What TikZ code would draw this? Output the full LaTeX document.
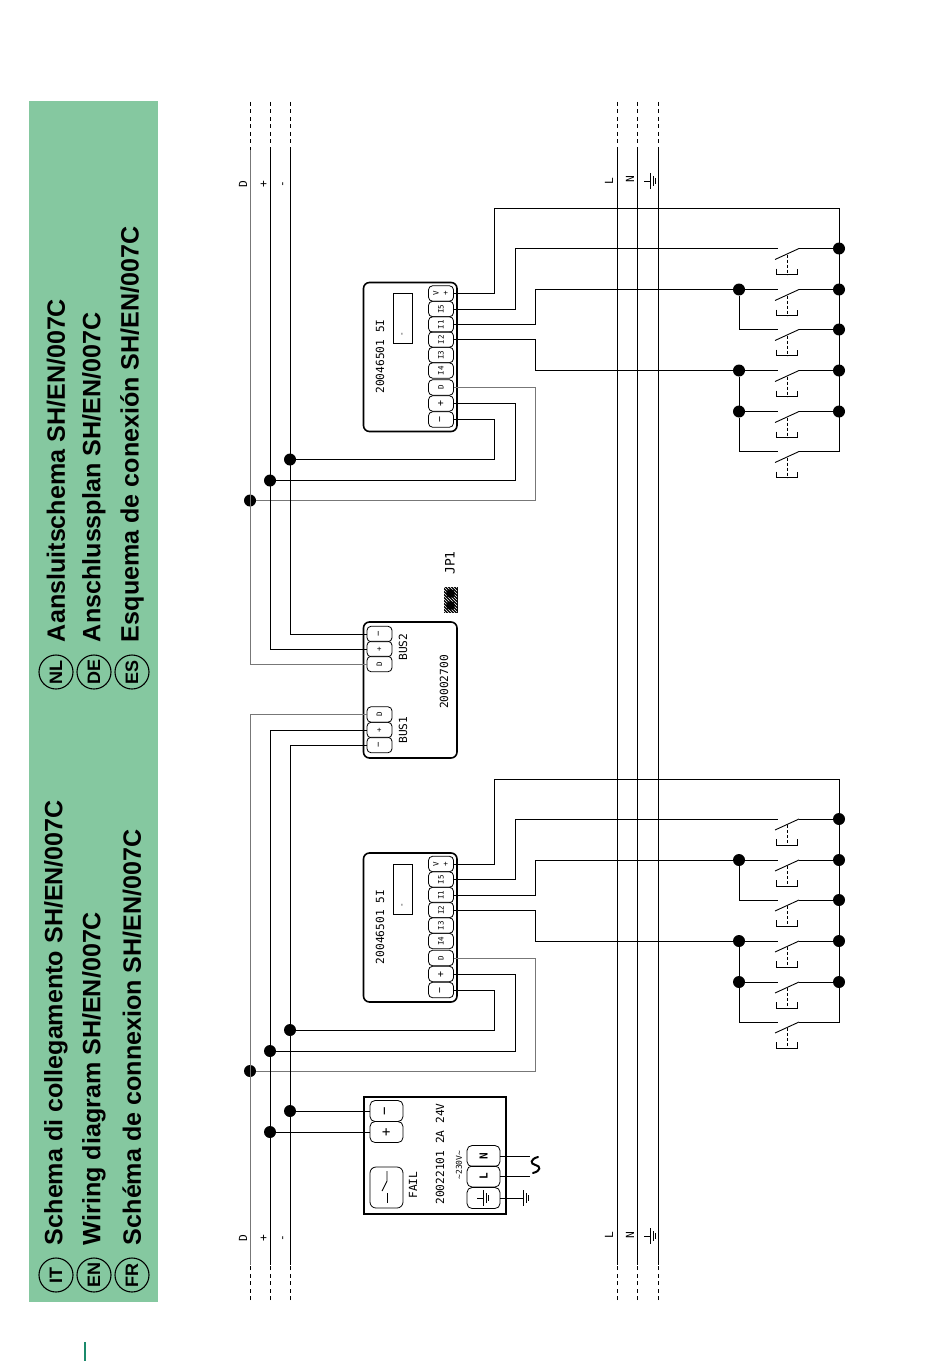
\documentclass[tikz,border=0pt]{standalone}
\usepackage{fontspec}
\setmainfont{Liberation Sans}
\newfontfamily\labelfont{DejaVu Sans Mono}
\usetikzlibrary{calc,patterns}

\definecolor{bandgreen}{HTML}{85C8A0}
\definecolor{tickgreen}{HTML}{1B8A6B}
\definecolor{dbus}{HTML}{777777}

\tikzset{
  every node/.style={outer sep=0pt},
  wire/.style={line width=0.9pt},
  dwire/.style={line width=0.9pt,draw=dbus},
  busdash/.style={line width=0.9pt,dash pattern=on 4pt off 3.5pt},
  module/.style={draw,line width=1.6pt,rounded corners=6pt,minimum width=93.5pt,anchor=north west,inner sep=0pt},
  term/.style={draw,line width=0.8pt,rounded corners=4pt,minimum width=25pt,minimum height=15.4pt,inner sep=0pt},
  bigterm/.style={draw,line width=0.8pt,rounded corners=5pt,minimum width=33pt,minimum height=21pt,inner sep=0pt},
  jn/.style={circle,fill=black,minimum size=12pt,inner sep=0pt},
  lbl/.style={rotate=90,inner sep=0pt,font=\labelfont\fontsize{11.2}{12}\selectfont},
  tinylbl/.style={rotate=90,inner sep=0pt,font=\labelfont\fontsize{7.5}{8}\selectfont},
  title/.style={rotate=90,inner sep=0pt,font=\bfseries\fontsize{25.1}{28}\selectfont,anchor=west},
  flag/.style={circle,draw,line width=1.1pt,minimum size=34pt,inner sep=0pt,rotate=90,font=\bfseries\fontsize{18}{20}\selectfont},
  pushbtn/.pic={
    \coordinate (-in) at (0,0);
    \coordinate (-out) at (21,0);
    \draw[wire] (21,0) -- (-3,11);
    \draw[wire,dash pattern=on 3pt off 2pt] (9,6) -- (9,26);
    \draw[wire] (-2,20) -- (-2,26) -- (19,26) -- (19,20);
  },
  earth/.pic={
    \coordinate (-in) at (0,0);
    \draw[wire] (0,0) -- (6,0) (6,-8) -- (6,8);
    \draw[wire] (9,-5) -- (9,5) (11.5,-3) -- (11.5,3);
  }
}

\begin{document}
\begin{tikzpicture}[x=1pt,y=-1pt]
\useasboundingbox (0,0) rectangle (950,1367);

% band with the titles
\fill[bandgreen] (29,101) rectangle (158,1302);
\draw[tickgreen,line width=1.6pt] (85,1342) -- (85,1361);

\node[flag] (it) at (56,1275) {IT};
\node[flag] (en) at (94,1275) {EN};
\node[flag] (fr) at (132,1275) {FR};
\node[flag] (nl) at (56,672) {NL};
\node[flag] (de) at (94,672) {DE};
\node[flag] (es) at (132,672) {ES};

\node[title] (tit) at (56,1245) {Schema di collegamento SH/EN/007C};
\node[title] (ten) at (94,1245) {Wiring diagram SH/EN/007C};
\node[title] (tfr) at (132,1245) {Schéma de connexion SH/EN/007C};
\node[title] (tnl) at (56,642) {Aansluitschema SH/EN/007C};
\node[title] (tde) at (94,642) {Anschlussplan SH/EN/007C};
\node[title] (tes) at (132,642) {Esquema de conexión SH/EN/007C};

% buses
\coordinate (dtop) at (250,102);
\coordinate (ptop) at (270,102);
\coordinate (mtop) at (290,102);
\coordinate (ltop) at (617,102);
\coordinate (ntop) at (637,102);
\coordinate (etop) at (658,102);
\coordinate (dend) at (250,1300);
\coordinate (pend) at (270,1300);
\coordinate (mend) at (290,1300);
\coordinate (lend) at (617,1300);
\coordinate (nend) at (637,1300);
\coordinate (eend) at (658,1300);

\foreach \b in {d,p,m,l,n,e}{
  \draw[busdash] (\b top) -- ($(\b top)+(0,48)$);
  \draw[busdash] (\b end) -- ($(\b end)+(0,-35)$);
}
\draw[wire] (ltop |- 0,150) -- (lend |- 0,1265);
\draw[wire] (ntop |- 0,150) -- (nend |- 0,1265);
\draw[wire] (etop |- 0,150) -- (eend |- 0,1265);

\node[lbl] (dlabt) at (243,184) {D};
\node[lbl] (plabt) at (264,184) {+};
\node[lbl] (mlabt) at (284,184) {-};
\node[lbl] (llabt) at (609,181) {L};
\node[lbl] (nlabt) at (630,179) {N};
\pic (eabt) at (644,181) {earth};
\node[lbl] (dlabb) at (243,1238) {D};
\node[lbl] (plabb) at (264,1238) {+};
\node[lbl] (mlabb) at (284,1238) {-};
\node[lbl] (llabb) at (609,1235) {L};
\node[lbl] (nlabb) at (630,1235) {N};
\pic (eabb) at (644,1236) {earth};

% the two input modules
\foreach \m/\dy in {a/0,b/-570.5}{
\begin{scope}[shift={(0,\dy)}]
  \node[module,minimum height=149pt] (\m box) at (363.5,853) {};
  \draw[line width=0.8pt] (393,864) rectangle (412,914);
  \node[tinylbl] (\m dash) at (403,905) {-};
  \node[lbl] (\m code) at (380,927) {20046501 5I};

  \node[term] (\m V) at (441,864) {};
  \node[term] (\m S) at (441,879.5) {};
  \node[term] (\m A) at (441,895) {};
  \node[term] (\m B) at (441,910) {};
  \node[term] (\m C) at (441,925.5) {};
  \node[term] (\m E) at (441,941) {};
  \node[term] (\m D) at (441,958) {};
  \node[term] (\m P) at (441,974) {};
  \node[term] (\m M) at (441,990) {};
  \node[tinylbl] at (436,864) {V};
  \node[tinylbl] at (446,864) {+};
  \node[tinylbl] at (441,879.5) {I5};
  \node[tinylbl] at (441,895) {I1};
  \node[tinylbl] at (441,910) {I2};
  \node[tinylbl] at (441,925.5) {I3};
  \node[tinylbl] at (441,941) {I4};
  \node[tinylbl] at (441,958) {D};
  \node[tinylbl] at (441,974) {\fontsize{10}{10}\selectfont +};
  \node[tinylbl] at (441,990) {\fontsize{10}{10}\selectfont −};

  \pic (\m s1) at (778,819) {pushbtn};
  \pic (\m s2) at (778,860) {pushbtn};
  \pic (\m s3) at (778,900) {pushbtn};
  \pic (\m s4) at (778,941) {pushbtn};
  \pic (\m s5) at (778,982) {pushbtn};
  \pic (\m s6) at (778,1022) {pushbtn};

  \node[jn] (\m r1) at (839,819) {};
  \node[jn] (\m r2) at (839,860) {};
  \node[jn] (\m r3) at (839,900) {};
  \node[jn] (\m r4) at (839,941) {};
  \node[jn] (\m r5) at (839,982) {};
  \coordinate (\m r6) at (839,1022);
  \coordinate (\m rtop) at (839,779);
  \node[jn] (\m l2) at (739,860) {};
  \node[jn] (\m l4) at (739,941) {};
  \node[jn] (\m l5) at (739,982) {};

  \node[jn] (\m bd) at (250,1071) {};
  \node[jn] (\m bp) at (270,1051) {};
  \node[jn] (\m bm) at (290,1030) {};
  \coordinate (\m vx) at (494,779);
  \coordinate (\m sx) at (515,819);
  \coordinate (\m ax) at (535,860);
  \coordinate (\m bx) at (535,941);
  \coordinate (\m dx) at (535,1071);
  \coordinate (\m px) at (515,1051);
  \coordinate (\m mx) at (494,1030);

  \draw[wire] (\m V.east) -| (\m vx) -- (\m rtop) -- (\m r6) -- (\m s6-out);
  \draw[wire] (\m S.east) -| (\m sx) -- (\m s1-in);
  \draw[wire] (\m A.east) -| (\m ax) -- (\m s2-in);
  \draw[wire] (\m B.east) -| (\m bx) -- (\m s4-in);
  \draw[wire] (\m l2) |- (\m s3-in);
  \draw[wire] (\m l4) -- (\m l5) -- (\m s5-in);
  \draw[wire] (\m l5) |- (\m s6-in);
  \draw[wire] (\m s1-out) -- (\m r1);
  \draw[wire] (\m s2-out) -- (\m r2);
  \draw[wire] (\m s3-out) -- (\m r3);
  \draw[wire] (\m s4-out) -- (\m r4);
  \draw[wire] (\m s5-out) -- (\m r5);
  \draw[dwire] (\m D.east) -| (\m dx) -- (\m bd);
  \draw[wire] (\m P.east) -| (\m px) -- (\m bp);
  \draw[wire] (\m M.east) -| (\m mx) -- (\m bm);
\end{scope}
}

% bus coupler
\node[module,minimum height=136pt] (coupler) at (363.5,622) {};
\node[term] (b2m) at (379.5,634) {};
\node[term] (b2p) at (379.5,649) {};
\node[term] (b2d) at (379.5,664) {};
\node[term] (b1d) at (379.5,714.5) {};
\node[term] (b1p) at (379.5,730) {};
\node[term] (b1m) at (379.5,745) {};
\foreach \n/\t in {b2p/+,b2d/D,b1d/D,b1p/+}
  \node[tinylbl] at (\n) {\t};
\node[tinylbl] at (b2m) {\fontsize{9}{10}\selectfont −};
\node[tinylbl] at (b1m) {\fontsize{9}{10}\selectfont −};
\node[lbl] (bus2) at (403,647) {BUS2};
\node[lbl] (bus1) at (403,730) {BUS1};
\node[lbl] (ccode) at (444,682) {20002700};
\node[lbl,font=\labelfont\fontsize{13}{14}\selectfont] (jp) at (450,563) {JP1};
\node[draw,fill=black,minimum width=13pt,minimum height=25pt,inner sep=0pt] (jumper) at (450.5,599.5) {};
\fill[pattern=north west lines,pattern color=white] (jumper.south west) rectangle (jumper.north east);
\fill (450.5,593.5) circle (4.5pt) (450.5,605.5) circle (4.5pt);

\draw[dwire] (dtop |- 0,150) |- (b2d.west);
\draw[wire] (ptop |- 0,150) |- (b2p.west);
\draw[wire] (mtop |- 0,150) |- (b2m.west);
\draw[dwire] (dend |- 0,1265) |- (b1d.west);
\draw[wire] (pend |- 0,1265) |- (b1p.west);
\draw[wire] (mend |- 0,1265) |- (b1m.west);

% power supply
\node[draw,line width=2pt,minimum width=142pt,minimum height=117pt,anchor=north west,inner sep=0pt] (psu) at (363.5,1096.5) {};
\node[bigterm] (pm) at (386.5,1111) {};
\node[bigterm] (pp) at (386.5,1132) {};
\node[lbl] at (pm) {\fontsize{14}{14}\selectfont −};
\node[lbl] at (pp) {\fontsize{14}{14}\selectfont +};
\node[draw,line width=0.8pt,rounded corners=6pt,minimum width=33pt,minimum height=41pt,inner sep=0pt] (fail) at (386.5,1187.5) {};
\draw[wire] (387,1171) -- (387,1181) -- (382,1191);
\draw[wire] (387,1193) -- (387,1203);
\node[lbl] (failt) at (413,1185) {FAIL};
\node[lbl] (pcode) at (440,1154) {20022101 2A 24V};
\node[tinylbl] (volt) at (459,1165) {\fontsize{8}{8}\selectfont\char`\~230V\char`\~};
\node[bigterm] (pn) at (483.5,1156) {};
\node[bigterm] (pl) at (483.5,1176.5) {};
\node[bigterm] (pe) at (483.5,1198) {};
\node[lbl,font=\labelfont\bfseries\fontsize{11}{12}\selectfont] at (pn) {N};
\node[lbl,font=\labelfont\bfseries\fontsize{11}{12}\selectfont] at (pl) {L};
\pic (pei) at (477,1198) {earth};

\node[jn] (ddot) at (290,1111) {};
\node[jn] (pdot) at (270,1132) {};
\draw[wire] (ddot) -- (pm.west);
\draw[wire] (pdot) -- (pp.west);

\coordinate (nx) at (530,1156);
\coordinate (lx) at (530,1176.5);
\pic (peo) at (517,1198) {earth};
\draw[wire] (pn.east) -- (nx);
\draw[wire] (pl.east) -- (lx);
\draw[wire] (pe.east) -- (peo-in);
\draw[line width=2pt,line cap=round] (538,1157) .. controls (530,1159) and (530,1164) .. (535.5,1165) .. controls (541,1166) and (541,1171) .. (533,1173);

\end{tikzpicture}
\end{document}
